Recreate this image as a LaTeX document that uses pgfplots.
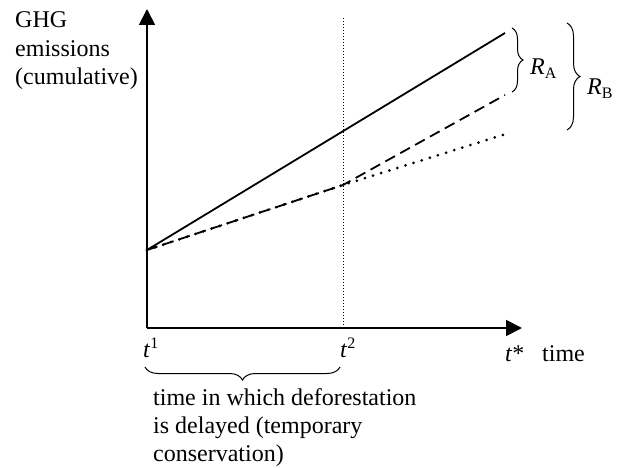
\documentclass[border=0pt]{standalone}
\usepackage{fontspec}
\setmainfont{Liberation Serif}
\usepackage{pgfplots}
\pgfplotsset{compat=1.18}
\usetikzlibrary{arrows.meta,decorations.pathreplacing}
\newcommand{\sups}[1]{\raisebox{9pt}{\fontsize{16}{18}\selectfont #1}}
\newcommand{\subs}[1]{\raisebox{-4pt}{\fontsize{16}{18}\selectfont #1}}
\begin{document}
\begin{tikzpicture}[lbl/.style={font=\fontsize{24}{28}\selectfont, inner sep=0pt, anchor=base west}]
\begin{axis}[x=1pt,y=1pt,xmin=0,xmax=375,ymin=0,ymax=319,
  axis lines=left, ticks=none, clip=false,
  axis line style={line width=1.8pt,-{Triangle[width=16pt,length=16pt]}}]
% invisible bounding frame (624 x 468)
\path (axis cs:-147,-140) rectangle (axis cs:477,328);
% vertical dotted line at t2
\draw[line width=0.8pt, dash pattern=on 1pt off 2pt] (axis cs:196,0) -- (axis cs:196,311);
% solid line
\addplot[line width=1.8pt, solid] coordinates {(0,78) (358,295)};
% dashed line
\addplot[line width=1.8pt, dash pattern=on 11pt off 6pt] coordinates {(0,78) (196,143) (358,233)};
% dotted line
\addplot[line width=3pt, line cap=round, dash pattern=on 0pt off 8.5pt] coordinates {(0,78) (196,143) (362,195)};
% braces
\draw[line width=1pt, decorate, decoration={brace, amplitude=11pt}] (axis cs:365,300) -- (axis cs:365,236);
\draw[line width=1pt, decorate, decoration={brace, amplitude=13pt}] (axis cs:420,305) -- (axis cs:420,198);
\draw[line width=1pt, decorate, decoration={brace, amplitude=13pt}] (axis cs:193,-39) -- (axis cs:-2,-39);
% labels
\node[lbl] at (axis cs:383,253) {\textit{R}\subs{A}};
\node[lbl] at (axis cs:440,233) {\textit{R}\subs{B}};
\node[lbl] at (axis cs:-4,-30) {\textit{t}\sups{1}};
\node[lbl] at (axis cs:193,-30) {\textit{t}\sups{2}};
\node[lbl] at (axis cs:358,-34) {\textit{t}*};
\node[lbl] at (axis cs:395,-34) {time};
\node[lbl] at (axis cs:6,-77) {time in which deforestation};
\node[lbl] at (axis cs:6,-105) {is delayed (temporary};
\node[lbl] at (axis cs:6,-133) {conservation)};
\node[lbl] at (axis cs:-132,300) {GHG};
\node[lbl] at (axis cs:-132,271) {emissions};
\node[lbl] at (axis cs:-132,243) {(cumulative)};
\end{axis}
\end{tikzpicture}
\end{document}
